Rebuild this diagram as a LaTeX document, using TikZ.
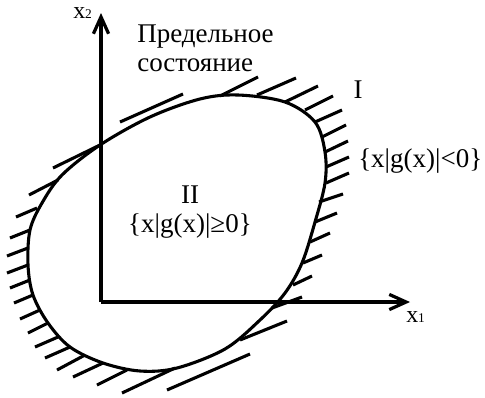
\documentclass[tikz,border=0pt]{standalone}
\usepackage{fontspec}
\setmainfont{Liberation Serif}
\usetikzlibrary{arrows.meta}

\begin{document}
\begin{tikzpicture}[
        x=0.025cm, y=-0.025cm,
        axis_style/.style={line width=2.3pt, -{Straight Barb[length=0.42cm, width=0.38cm, line width=2.3pt]}},
        curve_style/.style={line width=2.2pt},
        hatch_style/.style={line width=2.2pt},
        label_style/.style={inner sep=0pt, font=\fontsize{19.2}{20.6}\selectfont}
    ]
    \useasboundingbox (0,0) rectangle (485,397);

    % =========================================================================
    % 1. AXES
    % =========================================================================
    \coordinate (O) at (101,302);
    \coordinate (X1end) at (410,302);
    \coordinate (X2end) at (101,13);
    \draw[axis_style] (O) -- (X1end);
    \draw[axis_style] (O) -- (X2end);

    \node[label_style, font=\fontsize{17}{17}\selectfont, anchor=base west] (x2lbl) at (73,18)
        {x{\fontsize{9.5}{9.5}\selectfont 2}};
    \node[label_style, font=\fontsize{17}{17}\selectfont, anchor=base west] (x1lbl) at (406,322)
        {x{\fontsize{9.5}{9.5}\selectfont 1}};

    % =========================================================================
    % 2. LIMIT STATE SURFACE (closed curve)
    % =========================================================================
    \draw[curve_style] plot[smooth cycle, tension=0.55] coordinates {
        (238,95) (285,102) (315,122) (325,152) (325,183) (315,222)
        (302,263) (285,293) (260,320) (225,349) (177,368) (140,371)
        (103,363) (70,347) (48,323) (33,295) (28,265) (30,230)
        (42,203) (62,175) (100,145) (150,117) (200,99)};

    % =========================================================================
    % 3. HATCHING
    % =========================================================================
    % outer side, region I (up-right)
    \foreach \xa/\ya/\xb/\yb in {220/96/258/77, 257/95/296/78, 285/102/318/86,
            305/110/333/96, 315/122/342/110, 322/137/346/125, 325/152/348/141,
            326/167/349/157, 326/183/349/173, 319/202/343/194, 315/222/337/213,
            310/242/330/233, 303/263/322/255, 293/285/312/276, 272/308/302/297,
            240/340/287/321}
        \draw[hatch_style] (\xa,\ya) -- (\xb,\yb);
    % outer side, down-left
    \foreach \xa/\ya/\xb/\yb in {100/145/53/168, 58/180/29/195, 37/208/16/217,
            30/230/10/238, 28/248/7/256, 28/265/7/273, 30/280/10/288,
            33/295/14/303, 40/310/20/319, 48/323/28/333, 58/337/35/347,
            70/347/45/358, 85/355/57/370, 103/363/73/377, 127/370/97/385,
            175/368/122/393}
        \draw[hatch_style] (\xa,\ya) -- (\xb,\yb);
    % long strokes along the tangent parts
    \draw[hatch_style] (120,122) -- (183,94);
    \draw[hatch_style] (167,390) -- (250,354);

    % =========================================================================
    % 4. LABELS
    % =========================================================================
    \node[label_style, align=left, anchor=north west] (limit) at (137,25)
        {Предельное\\состояние};
    \node[label_style, anchor=center] (regI) at (358,90) {I};
    \node[label_style, anchor=base west] (setI) at (358,167) {\{x|g(x)|<0\}};
    \node[label_style, align=center, anchor=base] (regII) at (190,232)
        {II\\\{x|g(x)|≥0\}};

\end{tikzpicture}
\end{document}
